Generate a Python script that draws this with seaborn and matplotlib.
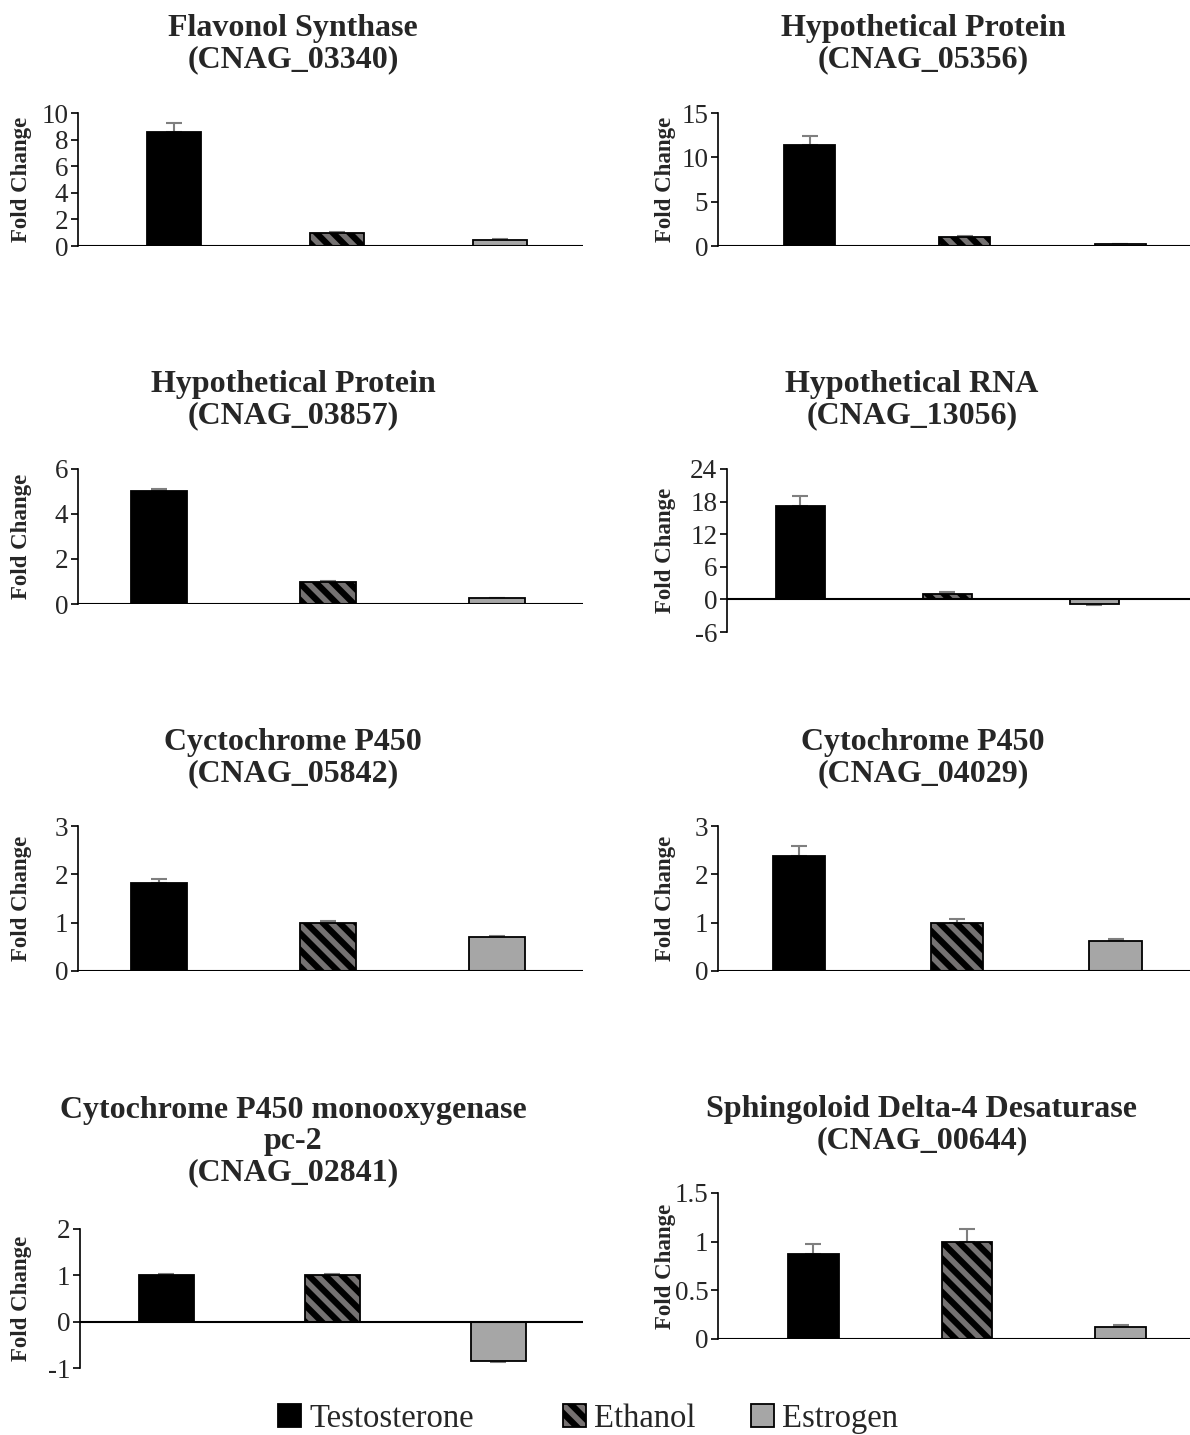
import matplotlib
matplotlib.use("Agg")
import matplotlib.pyplot as plt
import seaborn as sns
import pandas as pd
from matplotlib.patches import Patch

# ---------------- data ----------------
titles = [
    "Flavonol Synthase\n(CNAG_03340)",
    "Hypothetical Protein\n(CNAG_05356)",
    "Hypothetical Protein\n(CNAG_03857)",
    "Hypothetical RNA\n(CNAG_13056)",
    "Cyctochrome P450\n(CNAG_05842)",
    "Cytochrome P450\n(CNAG_04029)",
    "Cytochrome P450 monooxygenase\npc-2\n(CNAG_02841)",
    "Sphingoloid Delta-4 Desaturase\n(CNAG_00644)",
]
treatments = ["Testosterone", "Ethanol", "Estrogen"]
testosterone = [8.6, 11.4, 5.0, 17.2, 1.83, 2.37, 1.0, 0.87]
ethanol = [1.0, 1.0, 1.0, 1.0, 1.0, 1.0, 1.0, 1.0]
estrogen = [0.45, 0.2, 0.25, -0.9, 0.7, 0.62, -0.85, 0.12]
err_testosterone = [0.65, 1.0, 0.12, 1.9, 0.08, 0.22, 0.02, 0.11]
err_ethanol = [0.08, 0.1, 0.03, 0.3, 0.03, 0.08, 0.02, 0.13]
err_estrogen = [0.05, 0.05, 0.02, 0.15, 0.02, 0.05, 0.02, 0.02]
yticks = [
    [0, 2, 4, 6, 8, 10],
    [0, 5, 10, 15],
    [0, 2, 4, 6],
    [-6, 0, 6, 12, 18, 24],
    [0, 1, 2, 3],
    [0, 1, 2, 3],
    [-1, 0, 1, 2],
    [0, 0.5, 1, 1.5],
]
yticklabels = [
    ["0", "2", "4", "6", "8", "10"],
    ["0", "5", "10", "15"],
    ["0", "2", "4", "6"],
    ["-6", "0", "6", "12", "18", "24"],
    ["0", "1", "2", "3"],
    ["0", "1", "2", "3"],
    ["-1", "0", "1", "2"],
    ["0", "0.5", "1", "1.5"],
]

# ---------------- style / layout ----------------
W, H = 1190, 1435
colors = {"Testosterone": "#000000", "Ethanol": "#767171", "Estrogen": "#a6a6a6"}
err_color = "#7f7f7f"

# axes boxes in pixels: x0, x1, y_top, y_bottom ; xlim (left, right) in category units
axes_px = [
    (78, 583, 113, 246, (-0.59, 2.51)),
    (718, 1190, 113, 246, (-0.59, 2.45)),
    (78, 583, 469, 604, (-0.48, 2.51)),
    (727, 1190, 469, 632, (-0.50, 2.65)),
    (78, 583, 826, 971, (-0.48, 2.51)),
    (718, 1190, 826, 971, (-0.51, 2.47)),
    (80, 583, 1229, 1368, (-0.52, 2.51)),
    (718, 1190, 1193, 1339, (-0.62, 2.45)),
]
title_px = [
    (293, 44), (923, 44),
    (293, 400), (912, 400),
    (293, 758), (923, 758),
    (293, 1142), (922, 1125),
]
ylabel_x = [22, 665, 22, 665, 22, 665, 22, 665]

sns.set_theme(style="white")
plt.rcParams["font.family"] = ["Liberation Serif", "DejaVu Serif"]
plt.rcParams["hatch.linewidth"] = 4.5
plt.rcParams["hatch.color"] = "black"

fig = plt.figure(figsize=(W / 100, H / 100), dpi=100)

for i in range(8):
    x0, x1, yt, yb, xl = axes_px[i]
    ax = fig.add_axes([x0 / W, 1 - yb / H, (x1 - x0) / W, (yb - yt) / H])
    vals = [testosterone[i], ethanol[i], estrogen[i]]
    errs = [err_testosterone[i], err_ethanol[i], err_estrogen[i]]
    df = pd.DataFrame({"treatment": treatments, "value": vals})
    sns.barplot(data=df, x="treatment", y="value", hue="treatment",
                order=treatments, hue_order=treatments, palette=colors,
                width=0.33, edgecolor="black", linewidth=1.3,
                errorbar=None, legend=False, ax=ax, zorder=2)
    for p in ax.patches:
        p.set_edgecolor("black")
    ax.patches[1].set_hatch("\\\\")
    lower = [e if v < 0 else 0 for v, e in zip(vals, errs)]
    upper = [e if v >= 0 else 0 for v, e in zip(vals, errs)]
    ax.errorbar(range(3), vals, yerr=[lower, upper], fmt="none",
                ecolor=err_color, elinewidth=1.5, capsize=6, capthick=1.5, zorder=1)
    ax.set_xlim(*xl)
    ax.set_ylim(yticks[i][0], yticks[i][-1])
    ax.set_yticks(yticks[i])
    ax.set_yticklabels(yticklabels[i], fontsize=19.5)
    ax.set_xticks([])
    ax.set_xlabel("")
    ax.set_ylabel("")
    for s in ["top", "right", "bottom"]:
        ax.spines[s].set_visible(False)
    ax.spines["left"].set_color("black")
    ax.spines["left"].set_linewidth(1.2)
    ax.axhline(0, color="black", lw=1.5, zorder=3)
    ax.tick_params(axis="y", direction="out", length=5, width=1.2, color="black",
                   left=True, pad=2)
    ax.set_facecolor("none")
    tx, ty = title_px[i]
    fig.text(tx / W, 1 - ty / H, titles[i], ha="center", va="center",
             fontsize=23, fontweight="bold", linespacing=1.1)
    fig.text(ylabel_x[i] / W, 1 - ((yt + yb) / 2) / H, "Fold Change",
             rotation=90, ha="center", va="center", fontsize=16.5, fontweight="bold")

# legend
leg_pos = [(278, "Testosterone"), (563, "Ethanol"), (751, "Estrogen")]
for xpx, name in leg_pos:
    h = Patch(facecolor=colors[name], edgecolor="black", linewidth=1.3,
              hatch="\\\\" if name == "Ethanol" else None)
    fig.legend(handles=[h], labels=[name], loc="center left",
               bbox_to_anchor=(xpx / W, 1 - 1419 / H), frameon=False,
               fontsize=23.5, handlelength=0.7, handleheight=0.7,
               handletextpad=0.25, borderpad=0, borderaxespad=0)

fig.savefig("out.png", dpi=100)
